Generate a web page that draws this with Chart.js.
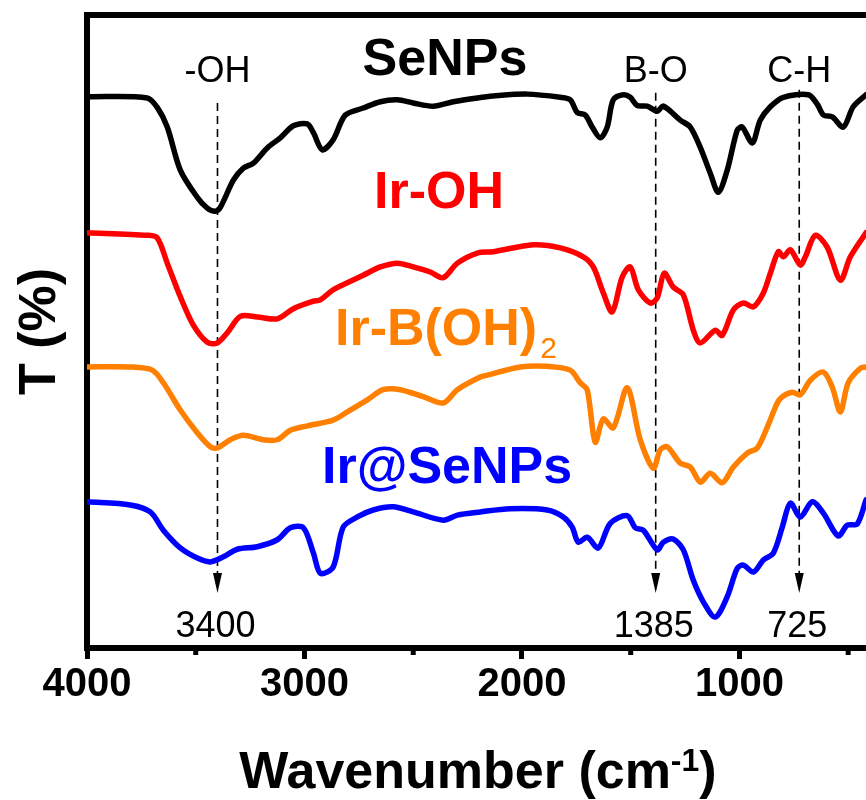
<!DOCTYPE html>
<html>
<head>
<meta charset="utf-8">
<script src="https://cdn.jsdelivr.net/npm/chart.js@4.4.1/dist/chart.umd.min.js"></script>
<style>
  body { margin: 0; background: #fff; }
  #wrap { width: 866px; height: 800px; position: relative; }
</style>
</head>
<body>
<div id="wrap"><canvas id="ftir"></canvas></div>
<script>
// Spectra (wavenumber in cm-1, T in arbitrary offset units)
const seNPsWn = [4000,3723,3677,3631,3571,3493,3447,3410,3387,3327,3281,3235,3171,3111,3051,2987,2959,2918,2868,2812,2730,2651,2573,2500,2408,2316,2205,2132,1976,1824,1778,1746,1709,1677,1640,1608,1580,1534,1502,1470,1424,1378,1350,1272,1226,1180,1134,1097,1056,1010,987,941,904,858,798,683,642,614,573,522,477,418];
const seNPsT  = [87.1,86.9,85.4,82.3,75.5,71.2,69.5,69.0,69.6,73.9,75.8,76.6,79.0,80.6,82.5,82.8,81.4,78.7,80.3,84.2,85.3,86.3,86.6,86.1,85.6,86.3,86.9,87.2,87.5,87.0,86.6,84.6,84.2,82.3,80.6,82.3,86.6,87.4,87.0,85.7,85.6,84.8,85.6,83.4,82.3,79.1,75.0,72.0,75.5,81.8,82.3,79.8,83.4,85.5,87.0,87.4,85.9,84.2,83.9,82.3,85.5,87.4];

const irOHWn = [4000,3723,3677,3631,3571,3511,3447,3401,3355,3295,3217,3125,3051,2959,2927,2868,2803,2730,2651,2573,2500,2422,2362,2297,2205,2132,1948,1824,1718,1672,1626,1585,1539,1502,1465,1410,1378,1346,1304,1258,1212,1180,1111,1079,1028,982,936,890,858,821,798,766,720,697,651,596,536,490,418];
const irOHT  = [65.6,65.2,64.8,60.8,55.5,51.0,48.3,48.2,49.8,52.4,52.3,52.0,53.6,54.8,55.0,56.6,57.7,58.9,60.2,60.8,60.2,59.4,58.5,60.8,62.4,62.6,63.7,63.2,61.8,60.2,56.1,53.1,58.6,60.2,56.6,54.5,55.3,59.2,57.0,55.8,50.2,48.2,50.2,49.4,53.4,54.5,53.9,56.1,59.2,62.6,61.8,62.9,60.5,61.8,65.2,63.3,58.1,61.8,65.6];

const irBOHWn = [4000,3801,3700,3649,3571,3493,3433,3401,3341,3281,3189,3125,3065,2987,2868,2803,2711,2638,2559,2454,2362,2297,2192,2159,2008,1884,1778,1732,1700,1663,1626,1580,1516,1456,1396,1364,1332,1272,1226,1180,1134,1079,1028,964,918,872,826,803,757,720,674,614,573,536,500,444,418];
const irBOHT  = [44.4,44.4,43.9,41.9,37.6,34.0,31.8,31.6,32.9,33.6,32.9,32.9,34.4,35.1,36.0,37.3,39.2,40.8,40.8,39.7,38.7,40.8,42.8,43.1,44.4,44.5,43.9,41.9,40.8,32.5,36.2,34.8,41.1,32.9,28.4,31.3,31.8,29.2,28.6,26.2,27.6,26.1,28.6,30.8,31.6,34.9,38.7,39.7,40.4,40.0,42.3,43.6,41.2,37.3,41.9,44.2,44.4];

const irSeWn = [4000,3801,3709,3649,3571,3493,3433,3373,3309,3217,3125,3065,3005,2959,2927,2868,2822,2757,2684,2592,2500,2362,2297,2192,2054,1884,1810,1769,1741,1700,1649,1594,1516,1479,1442,1378,1350,1304,1258,1212,1166,1111,1056,1010,982,936,890,844,803,766,720,665,614,546,504,458,418];
const irSeT  = [23.1,22.6,21.5,18.6,15.8,14.2,13.6,14.4,15.6,16.0,17.1,19.0,19.0,15.0,11.8,12.8,19.1,20.7,21.8,22.3,21.5,20.2,21.0,21.5,22.0,21.8,20.7,19.1,16.7,17.5,15.8,19.7,20.9,19.0,18.6,15.5,16.7,17.2,15.5,10.7,7.3,4.9,8.1,12.6,13.1,12.0,13.9,15.0,19.1,22.9,20.7,23.1,21.3,17.7,19.4,19.6,23.4];

// Axis ticks and marked peaks
const majorTicks = [1000, 2000, 3000, 4000];
const minorTicks = [500, 1500, 2500, 3500];
const peakWn = [3400, 1385, 725];
const peakNames = ['-OH', 'B-O', 'C-H'];
const peakLabels = ['3400', '1385', '725'];
const arrowTopT = [86.1, 87.7, 88.2];
const arrowTipT = 8.7;

const toPoints = (wn, t) => wn.map((w, i) => ({ x: w, y: t[i] }));
const FONT = '"Liberation Sans", Arial, sans-serif';

const overlay = {
  id: 'overlay',
  beforeDatasetsDraw(chart) {
    const { ctx, chartArea: a, scales: { x, y } } = chart;
    ctx.save();
    // top frame line
    ctx.strokeStyle = '#000';
    ctx.lineWidth = 6;
    ctx.beginPath();
    ctx.moveTo(a.left - 3, a.top);
    ctx.lineTo(a.right + 3, a.top);
    ctx.stroke();
    // minor ticks
    ctx.lineWidth = 5;
    minorTicks.forEach(v => {
      const px = x.getPixelForValue(v);
      ctx.beginPath();
      ctx.moveTo(px, a.bottom);
      ctx.lineTo(px, a.bottom + 7);
      ctx.stroke();
    });
    // dashed arrows
    ctx.lineWidth = 1.6;
    ctx.setLineDash([8, 5]);
    const tip = y.getPixelForValue(arrowTipT);
    peakWn.forEach((wn, i) => {
      const px = x.getPixelForValue(wn);
      ctx.beginPath();
      ctx.moveTo(px, y.getPixelForValue(arrowTopT[i]));
      ctx.lineTo(px, tip - 18);
      ctx.stroke();
    });
    ctx.setLineDash([]);
    ctx.fillStyle = '#000';
    peakWn.forEach(wn => {
      const px = x.getPixelForValue(wn);
      ctx.beginPath();
      ctx.moveTo(px - 4.5, tip - 20);
      ctx.lineTo(px + 4.5, tip - 20);
      ctx.lineTo(px, tip);
      ctx.closePath();
      ctx.fill();
    });
    ctx.restore();
  },
  afterDraw(chart) {
    const { ctx, scales: { x } } = chart;
    ctx.save();
    ctx.textBaseline = 'alphabetic';
    // peak names and positions
    ctx.font = '36px ' + FONT;
    ctx.fillStyle = '#000';
    ctx.textAlign = 'center';
    peakWn.forEach((wn, i) => {
      const px = x.getPixelForValue(wn);
      ctx.fillText(peakNames[i], px, 82);
      ctx.fillText(peakLabels[i], px - 2, 637);
    });
    // series labels
    ctx.font = 'bold 52px ' + FONT;
    ctx.fillStyle = '#000000';
    ctx.fillText('SeNPs', 445, 75);
    ctx.fillStyle = '#ff0000';
    ctx.fillText('Ir-OH', 439, 208);
    ctx.textAlign = 'left';
    ctx.fillStyle = '#ff8000';
    ctx.fillText('Ir-B(OH)', 335, 345);
    const w = ctx.measureText('Ir-B(OH)').width;
    ctx.font = '30px ' + FONT;
    ctx.fillText('2', 335 + w + 3, 358);
    ctx.font = 'bold 52px ' + FONT;
    ctx.fillStyle = '#0000ff';
    ctx.fillText('Ir@SeNPs', 322, 483);
    // x axis title with superscript
    ctx.fillStyle = '#000';
    const main = 'Wavenumber (cm';
    ctx.font = 'bold 52px ' + FONT;
    const w1 = ctx.measureText(main).width;
    const w3 = ctx.measureText(')').width;
    ctx.font = 'bold 32px ' + FONT;
    const w2 = ctx.measureText('-1').width;
    let sx = 478 - (w1 + w2 + w3) / 2;
    ctx.font = 'bold 52px ' + FONT;
    ctx.fillText(main, sx, 788);
    sx += w1;
    ctx.font = 'bold 32px ' + FONT;
    ctx.fillText('-1', sx, 771);
    sx += w2;
    ctx.font = 'bold 52px ' + FONT;
    ctx.fillText(')', sx, 788);
    ctx.restore();
  }
};

const lineStyle = { pointRadius: 0, borderWidth: 5.5, tension: 0.3, fill: false,
  borderJoinStyle: 'round', borderCapStyle: 'round' };

new Chart(document.getElementById('ftir').getContext('2d'), {
  type: 'line',
  data: {
    datasets: [
      { label: 'SeNPs', data: toPoints(seNPsWn, seNPsT), borderColor: '#000000', ...lineStyle },
      { label: 'Ir-OH', data: toPoints(irOHWn, irOHT), borderColor: '#ff0000', ...lineStyle },
      { label: 'Ir-B(OH)2', data: toPoints(irBOHWn, irBOHT), borderColor: '#ff8000', ...lineStyle },
      { label: 'Ir@SeNPs', data: toPoints(irSeWn, irSeT), borderColor: '#0000ff', ...lineStyle }
    ]
  },
  options: {
    responsive: true,
    maintainAspectRatio: false,
    animation: false,
    layout: { padding: { top: 15, right: 0, left: 0, bottom: 0 } },
    scales: {
      x: {
        type: 'linear',
        reverse: true,
        min: 418,
        max: 4000,
        afterBuildTicks: s => { s.ticks = majorTicks.map(v => ({ value: v })); },
        afterFit: s => { s.height = 152; },
        grid: { display: true, drawOnChartArea: false, drawTicks: true,
          tickLength: 11, tickWidth: 5, tickColor: '#000' },
        border: { display: true, width: 6, color: '#000' },
        ticks: { color: '#000', padding: 2, maxRotation: 0,
          callback: v => String(v),
          font: { family: FONT, size: 40, weight: 'bold' } }
      },
      y: {
        min: 0,
        max: 100,
        afterFit: s => { s.width = 87; },
        grid: { display: false },
        border: { display: true, width: 6, color: '#000' },
        ticks: { display: false },
        title: { display: true, text: 'T (%)', color: '#000', padding: { top: 9, bottom: 0 },
          font: { family: FONT, size: 52, weight: 'bold' } }
      }
    },
    plugins: { legend: { display: false }, tooltip: { enabled: false } }
  },
  plugins: [overlay]
});
</script>
</body>
</html>
